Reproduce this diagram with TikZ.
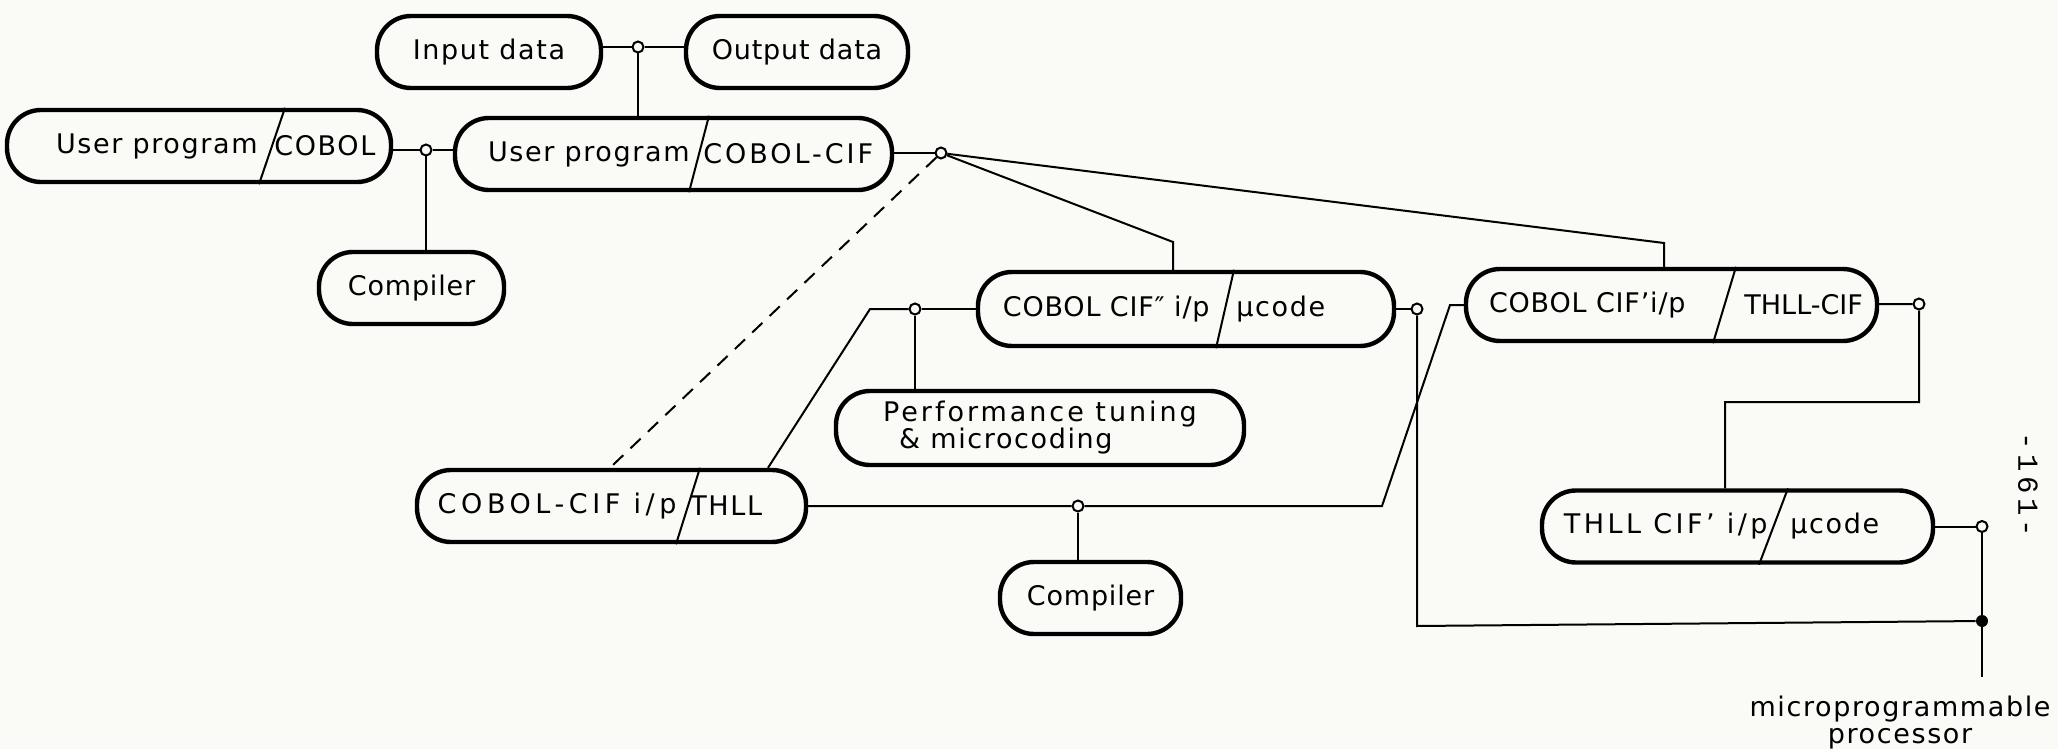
\documentclass[tikz,border=0pt]{standalone}
\usepackage{fontspec}
\setmainfont{DejaVu Sans}[LetterSpace=6]
\newfontfamily\pagenofont{Liberation Mono}[LetterSpace=15]
\newcommand\spaced[1]{\addfontfeatures{LetterSpace=#1}}
\usetikzlibrary{calc}
\definecolor{paper}{RGB}{250,250,246}
\begin{document}
\begin{tikzpicture}[x=0.5pt, y=-0.5pt,
  txtfont/.style={font=\fontsize{13.5}{14.5}\selectfont},
  pill/.style={draw, line width=2.2pt, rounded corners=17pt, minimum height=36pt,
    inner sep=0pt, txtfont},
  lbl/.style={inner sep=0pt, txtfont},
  link/.style={line width=1pt},
  slash/.style={line width=1pt},
  jn/.style={circle, draw, line width=1pt, fill=paper, inner sep=0pt, minimum size=5.5pt},
  dot/.style={circle, fill, inner sep=0pt, minimum size=6pt}]

\fill[paper] (0,0) rectangle (2058,749);
\useasboundingbox (0,0) rectangle (2058,749);

% ---- boxes ----
\node[pill, minimum width=112pt] (inp)  at (489,52)  {Input data};
\node[pill, minimum width=111pt] (outp) at (797,52)  {\spaced{3}Output data};
\node[pill, minimum width=192pt] (upc)  at (199,146) {};
\node[pill, minimum width=218.5pt] (upcif) at (673.5,154) {};
\node[pill, minimum width=92.5pt] (comp1) at (411.5,288) {\spaced{3}Compiler};
\node[pill, minimum width=208pt, minimum height=37pt] (cifpp) at (1186,309) {};
\node[pill, minimum width=205.5pt] (cifp) at (1671.5,305) {};
\node[pill, minimum width=204pt, minimum height=37pt, align=left] (perf) at (1040,428)
  {\spaced{11}Performance tuning\\[-1pt]\hspace*{8pt}\& microcoding};
\node[pill, minimum width=194.5pt] (thll) at (611.5,506) {};
\node[pill, minimum width=90.5pt] (comp2) at (1090.5,598) {\spaced{3}Compiler};
\node[pill, minimum width=195.5pt] (mcode) at (1737.5,526.5) {};

% ---- split boxes: dividing strokes and the two halves of each label ----
\draw[slash] (285,0 |- upc.north) -- (259,0 |- upc.south);
\node[lbl, anchor=east] (upcL) at (258,146) {User program};
\node[lbl, anchor=west] (upcR) at (274,146) {COBOL};

\draw[slash] (709,0 |- upcif.north) -- (689,0 |- upcif.south);
\node[lbl, anchor=east] (upcifL) at (690,154) {User program};
\node[lbl, anchor=west] (upcifR) at (703,154) {\spaced{11}COBOL-CIF};

\draw[slash] (1234,0 |- cifpp.north) -- (1216,0 |- cifpp.south);
\node[lbl, anchor=east] (cifppL) at (1210,309) {\spaced{3}COBOL CIF″ i/p};
\node[lbl, anchor=west] (cifppR) at (1236,309) {µcode};

\draw[slash] (1736,0 |- cifp.north) -- (1713,0 |- cifp.south);
\node[lbl, anchor=east] (cifpL) at (1686,305) {\spaced{3}COBOL CIF’i/p};
\node[lbl, anchor=west] (cifpR) at (1744,305) {\spaced{0}THLL-CIF};

\draw[slash] (700,0 |- thll.north) -- (676,0 |- thll.south);
\node[lbl, anchor=east] (thllL) at (677,506) {\spaced{17}COBOL-CIF i/p};
\node[lbl, anchor=west] (thllR) at (690,506) {THLL};

\draw[slash] (1788,0 |- mcode.north) -- (1759,0 |- mcode.south);
\node[lbl, anchor=east] (mcodeL) at (1768,526.5) {\spaced{13}THLL CIF’ i/p};
\node[lbl, anchor=west] (mcodeR) at (1790,526.5) {µcode};

% ---- junctions ----
\node[jn] (j1) at (638,47) {};
\node[jn] (j2) at (426,150) {};
\node[jn] (j3) at (941,153) {};
\node[jn] (j4) at (915,309) {};
\node[jn] (j5) at (1417,309) {};
\node[jn] (j6) at (1078,506) {};
\node[jn] (j7) at (1919,304) {};
\node[jn] (j8) at (1982,526.5) {};
\node[dot] (fd) at (1982,621) {};

\coordinate (k1) at (1173,242);
\coordinate (k2) at (1664,243);
\coordinate (k4) at (870,309);
\coordinate (k5) at (1417,626);
\coordinate (k6) at (1382,506);
\coordinate (k7) at (1450,305);
\coordinate (k8) at (1919,402);
\coordinate (k9) at (1725,402);
\coordinate (k10) at (1982,677);

% ---- connectors ----
\draw[link] (inp.east |- j1) -- (j1) -- (outp.west |- j1);
\draw[link] (j1) -- (j1 |- upcif.north);
\draw[link] (upc.east |- j2) -- (j2) -- (upcif.west |- j2);
\draw[link] (j2) -- (j2 |- comp1.north);
\draw[link] (upcif.east |- j3) -- (j3);
\draw[link] (j3) -- (k1) -- (k1 |- cifpp.north);
\draw[link] (j3) -- (k2) -- (k2 |- cifp.north);
\draw[link, dash pattern=on 7pt off 5pt] (j3) -- (610,0 |- thll.north);
\draw[link] (j4) -- (cifpp);
\draw[link] (j4) -- (j4 |- perf.north);
\draw[link] (j4) -- (k4) -- (768,0 |- thll.north);
\draw[link] (cifpp) -- (j5);
\draw[link] (j5) -- (k5) -- (fd);
\draw[link] (thll) -- (j6) -- (k6) -- (k7) -- (cifp);
\draw[link] (j6) -- (j6 |- comp2.north);
\draw[link] (cifp) -- (j7) -- (k8) -- (k9) -- (k9 |- mcode.north);
\draw[link] (mcode) -- (j8) -- (fd) -- (k10);

% ---- free labels ----
\node[lbl, align=center, anchor=north, font=\fontsize{13.5}{13.5}\selectfont] (mp) at (1900,696) {microprogrammable\\processor};
\node[rotate=-90, inner sep=0pt, font=\pagenofont\fontsize{14.5}{14.5}\selectfont] (pg) at (2028,485) {-161-};

\end{tikzpicture}
\end{document}
